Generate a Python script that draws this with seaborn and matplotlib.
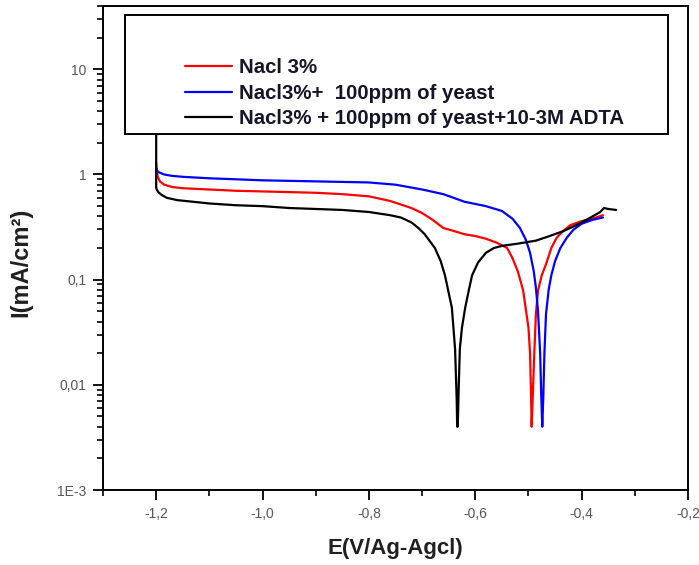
import pandas as pd
import numpy as np
import seaborn as sns
import matplotlib
matplotlib.use("Agg")
import matplotlib.pyplot as plt
from matplotlib.patches import Rectangle
from matplotlib.ticker import FixedLocator, FixedFormatter, MultipleLocator, LogLocator, NullFormatter

# polarisation curves: E (V vs Ag/AgCl), I (mA/cm2)
e_nacl = [-1.200, -1.199, -1.197, -1.193, -1.185, -1.17, -1.15, -1.1, -1.05, -1.0,
          -0.95, -0.9, -0.85, -0.80, -0.76, -0.72, -0.70, -0.68, -0.66, -0.64,
          -0.62, -0.60, -0.58, -0.56, -0.54, -0.53, -0.52, -0.51, -0.50, -0.497,
          -0.495, -0.494, -0.492, -0.489, -0.486, -0.482, -0.475, -0.467, -0.457, -0.447,
          -0.435, -0.421, -0.40, -0.38, -0.36]
i_nacl = [1.3, 1.1, 0.95, 0.86, 0.80, 0.76, 0.74, 0.72, 0.70, 0.69,
          0.68, 0.67, 0.65, 0.62, 0.56, 0.48, 0.43, 0.37, 0.31, 0.29,
          0.27, 0.26, 0.245, 0.225, 0.2, 0.16, 0.12, 0.079, 0.035, 0.02,
          0.0075, 0.004, 0.0075, 0.02, 0.047, 0.079, 0.11, 0.14, 0.2, 0.25,
          0.29, 0.33, 0.36, 0.38, 0.41]

e_yeast = [-1.200, -1.199, -1.195, -1.185, -1.17, -1.15, -1.1, -1.05, -1.0, -0.95,
           -0.9, -0.85, -0.80, -0.75, -0.70, -0.66, -0.62, -0.58, -0.55, -0.53,
           -0.516, -0.505, -0.497, -0.49, -0.486, -0.482, -0.478, -0.476, -0.474, -0.472,
           -0.470, -0.467, -0.462, -0.457, -0.45, -0.44, -0.428, -0.415, -0.40, -0.38,
           -0.36]
i_yeast = [1.15, 1.1, 1.05, 1.0, 0.97, 0.95, 0.92, 0.90, 0.88, 0.87,
           0.86, 0.85, 0.84, 0.80, 0.72, 0.65, 0.55, 0.50, 0.45, 0.38,
           0.31, 0.24, 0.18, 0.12, 0.084, 0.05, 0.02, 0.008, 0.004, 0.008,
           0.02, 0.047, 0.08, 0.11, 0.15, 0.2, 0.25, 0.3, 0.34, 0.37,
           0.39]

e_adta = [-1.200, -1.200, -1.199, -1.196, -1.19, -1.18, -1.16, -1.13, -1.1, -1.05,
          -1.0, -0.95, -0.9, -0.85, -0.8, -0.76, -0.74, -0.72, -0.707, -0.695,
          -0.676, -0.665, -0.657, -0.65, -0.644, -0.638, -0.635, -0.634, -0.633, -0.631,
          -0.629, -0.625, -0.619, -0.612, -0.606, -0.595, -0.58, -0.565, -0.549, -0.52,
          -0.486, -0.46, -0.434, -0.41, -0.383, -0.365, -0.358, -0.35, -0.335]
i_adta = [20, 0.75, 0.72, 0.68, 0.64, 0.60, 0.57, 0.55, 0.53, 0.51,
          0.50, 0.48, 0.47, 0.46, 0.44, 0.41, 0.39, 0.35, 0.31, 0.27,
          0.2, 0.15, 0.11, 0.075, 0.054, 0.022, 0.0075, 0.004, 0.004, 0.01,
          0.022, 0.035, 0.054, 0.08, 0.11, 0.145, 0.18, 0.2, 0.21, 0.22,
          0.235, 0.26, 0.29, 0.33, 0.39, 0.44, 0.48, 0.47, 0.46]

labels = ["Nacl 3%", "Nacl3%+  100ppm of yeast", "Nacl3% + 100ppm of yeast+10-3M ADTA"]
colors = ["#ff0000", "#0000ff", "#000000"]

x_ticks = [-1.2, -1.0, -0.8, -0.6, -0.4, -0.2]
x_ticklabels = ["-1,2", "-1,0", "-0,8", "-0,6", "-0,4", "-0,2"]
y_ticks = [1e-3, 1e-2, 1e-1, 1, 10]
y_ticklabels = ["1E-3", "0,01", "0,1", "1", "10"]

df = pd.concat([
    pd.DataFrame({"E": e_nacl, "I": i_nacl, "curve": labels[0]}),
    pd.DataFrame({"E": e_yeast, "I": i_yeast, "curve": labels[1]}),
    pd.DataFrame({"E": e_adta, "I": i_adta, "curve": labels[2]}),
], ignore_index=True)

sns.set_style("ticks")
plt.rcParams["font.family"] = ["Liberation Sans", "DejaVu Sans"]

fig = plt.figure(figsize=(6.99, 5.65), dpi=100)
ax = fig.add_axes([103 / 699, 1 - 490 / 565, 585 / 699, 484 / 565])

sns.lineplot(data=df, x="E", y="I", hue="curve", hue_order=labels,
             palette=dict(zip(labels, colors)), sort=False, estimator=None,
             linewidth=1.6, ax=ax, legend=False)

ax.set_yscale("log")
ax.set_xlim(-1.3, -0.2)
ax.set_ylim(1e-3, 40)

ax.xaxis.set_major_locator(FixedLocator(x_ticks))
ax.xaxis.set_major_formatter(FixedFormatter(x_ticklabels))
ax.xaxis.set_minor_locator(MultipleLocator(0.1))
ax.yaxis.set_major_locator(FixedLocator(y_ticks))
ax.yaxis.set_major_formatter(FixedFormatter(y_ticklabels))
ax.yaxis.set_minor_locator(LogLocator(base=10, subs=np.arange(2, 10)))
ax.yaxis.set_minor_formatter(NullFormatter())

ax.tick_params(which="major", direction="out", length=7, width=1.3,
               labelsize=10, labelcolor="#555565", color="black", pad=5)
ax.tick_params(which="minor", direction="out", length=4, width=1.2, color="black")
ax.tick_params(top=False, right=False, which="both")
for s in ax.spines.values():
    s.set_linewidth(1.4)
    s.set_color("black")

ax.set_xlabel("E(V/Ag-Agcl)", fontsize=16, fontweight="bold", color="#202020")
ax.set_ylabel("I(mA/cm²)", fontsize=17, fontweight="bold", color="#202020")
ax.xaxis.set_label_coords(0.5, -0.1)
ax.yaxis.set_label_coords(-0.12, 0.47)

# legend box
box = Rectangle((22 / 585, 356 / 484), 543 / 585, 119 / 484, transform=ax.transAxes,
                facecolor="white", edgecolor="black", linewidth=1.4, zorder=4)
ax.add_patch(box)
handles = [plt.Line2D([], [], color=c, linewidth=1.6) for c in colors]
leg = ax.legend(handles, labels, loc="upper left", frameon=False,
                bbox_to_anchor=(185 / 699, 1 - 58 / 565), bbox_transform=fig.transFigure,
                borderpad=0, borderaxespad=0, handlelength=2.3, handletextpad=0.35,
                labelspacing=0.33, prop={"size": 14.7, "weight": "bold"})
leg.set_zorder(5)
for t in leg.get_texts():
    t.set_color("#15152a")

fig.savefig("out.png", dpi=100)
